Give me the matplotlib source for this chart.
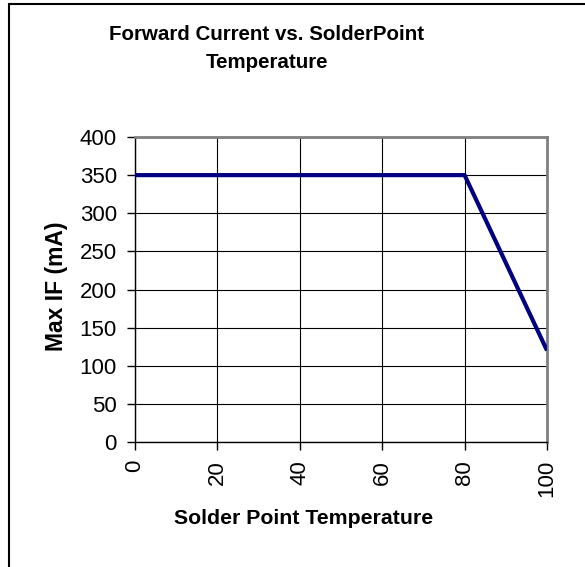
import matplotlib.pyplot as plt
from matplotlib.patches import Rectangle

plt.rcParams['font.family'] = ['Liberation Sans', 'DejaVu Sans']

temp = [0, 80, 100]
max_if = [350, 350, 120]
xticks = [0, 20, 40, 60, 80, 100]
yticks = [0, 50, 100, 150, 200, 250, 300, 350, 400]

W, H = 585, 567
fig = plt.figure(figsize=(W / 100, H / 100), dpi=100)
# plot area in pixels: left 135, right 547, top 137, bottom 442
ax = fig.add_axes([135 / W, 1 - 442 / H, (547 - 135) / W, (442 - 137) / H])

ax.plot(temp, max_if, color='#000080', lw=3, solid_capstyle='butt', zorder=3)
ax.set_xlim(0, 100)
ax.set_ylim(0, 400)
ax.set_xticks(xticks)
ax.set_yticks(yticks)
ax.set_xticklabels([str(t) for t in xticks], rotation=90)
ax.grid(True, color='black', lw=0.8)
ax.tick_params(direction='out', length=6, width=1, labelsize=16, pad=7)
for s in ['top', 'right']:
    ax.spines[s].set_color('#808080')
    ax.spines[s].set_linewidth(2)
for s in ['left', 'bottom']:
    ax.spines[s].set_color('black')
    ax.spines[s].set_linewidth(1)

fig.text(267 / W, 1 - 48.5 / H, 'Forward Current vs. SolderPoint\nTemperature',
         ha='center', va='center', fontsize=14.8, fontweight='bold', linespacing=1.62)
fig.text(304 / W, 1 - 518 / H, 'Solder Point Temperature',
         ha='center', va='center', fontsize=15.3, fontweight='bold')
fig.text(57 / W, 1 - 286 / H, 'Max IF (mA)', rotation=90,
         ha='center', va='center', fontsize=16.5, fontweight='bold')

# chart border, runs off the right and bottom of the picture
fig.patches.append(Rectangle((9 / W, -0.1), 1.2, 1.1 - 4 / H, transform=fig.transFigure,
                             fill=False, edgecolor='black', lw=1.5))

fig.savefig('out.png', dpi=100)
